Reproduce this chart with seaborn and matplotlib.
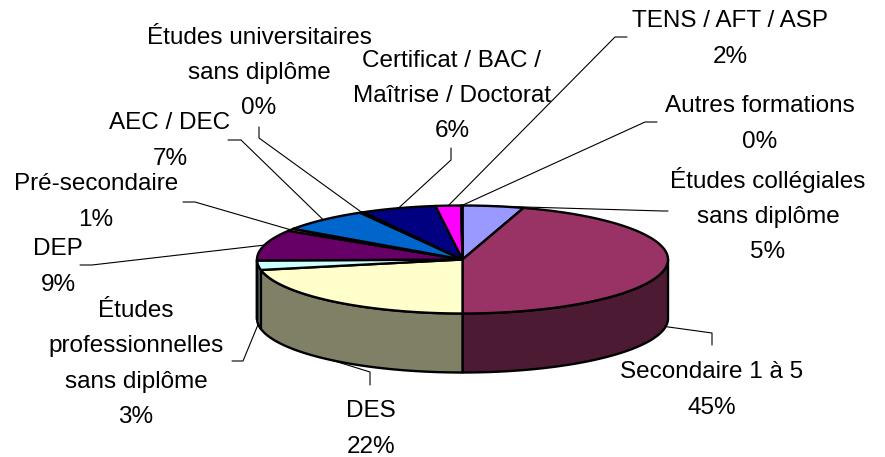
import numpy as np
import matplotlib
matplotlib.use("Agg")
import matplotlib.pyplot as plt
from matplotlib.patches import Polygon
from matplotlib.colors import to_rgb
import seaborn as sns

# slices, clockwise from 12 o'clock
categories = [
    "Études collégiales\nsans diplôme",
    "Secondaire 1 à 5",
    "DES",
    "Études\nprofessionnelles\nsans diplôme",
    "DEP",
    "Pré-secondaire",
    "AEC / DEC",
    "Études universitaires\nsans diplôme",
    "Certificat / BAC /\nMaîtrise / Doctorat",
    "TENS / AFT / ASP",
    "Autres formations",
]
shares = [4.8, 45.2, 21.9, 2.8, 9.2, 0.7, 7.1, 0.3, 5.9, 2.0, 0.1]
colors = ["#9999FF", "#993366", "#FFFFCC", "#CCFFFF", "#660066", "#FF8080",
          "#0066CC", "#CCCCFF", "#000080", "#FF00FF", "#FFFF00"]

# layout (pixel space of the 885x457 figure)
CX, CY, RX, RY, DEPTH = 462.5, 259.5, 205.5, 54.0, 59.0
label_pos = [(768, 215), (712, 390), (371, 429), (136, 364), (58, 267), (96, 202),
             (170, 141), (259, 73), (452, 96), (730, 39), (760, 124)]
leader_tail = [
    [(663, 211), (668, 211)],
    [(712, 333), (712, 345)],
    [(370, 372), (370, 385)],
    [(243, 361), (232, 361)],
    [(92, 265), (80, 265)],
    [(195, 202), (183, 202)],
    [(241, 140), (228, 140)],
    [(259, 138), (259, 127)],
    [(451, 160), (451, 148)],
    [(615, 37), (627, 37)],
    [(645, 122), (657, 122)],
]


def rim(a0, a1, dy=0.0, n=120):
    t = np.linspace(a0, a1, max(2, int(n * (a1 - a0) / np.pi) + 2))
    return np.column_stack([CX + RX * np.sin(t), CY + dy - RY * np.cos(t)])


def darker(c, f=0.5):
    return tuple(v * f for v in to_rgb(c))


sns.set_theme(style="white")
plt.rcParams["font.family"] = ["Liberation Sans", "DejaVu Sans"]

fig = plt.figure(figsize=(8.85, 4.57), dpi=100)
ax = fig.add_axes([0, 0, 1, 1])
ax.set_xlim(0, 885)
ax.set_ylim(457, 0)
ax.axis("off")

frac = np.array(shares) / np.sum(shares)
edges = np.concatenate([[0], np.cumsum(frac)]) * 2 * np.pi

# side walls (front half only)
for i in range(len(shares)):
    s0 = max(edges[i], np.pi / 2)
    s1 = min(edges[i + 1], 3 * np.pi / 2)
    if s1 - s0 <= 1e-6:
        continue
    pts = np.vstack([rim(s0, s1), rim(s0, s1, DEPTH)[::-1]])
    ax.add_patch(Polygon(pts, closed=True, facecolor=darker(colors[i]),
                         edgecolor="black", lw=1.7, joinstyle="round", zorder=1))

# top faces
for i in range(len(shares)):
    if edges[i + 1] - edges[i] <= 1e-6:
        continue
    pts = np.vstack([[CX, CY], rim(edges[i], edges[i + 1])])
    ax.add_patch(Polygon(pts, closed=True, facecolor=colors[i],
                         edgecolor="black", lw=1.7, joinstyle="round", zorder=2))

# labels with leader lines
for i, name in enumerate(categories):
    mid = (edges[i] + edges[i + 1]) / 2
    front = np.pi / 2 < mid < 3 * np.pi / 2
    anchor = rim(mid, mid, DEPTH if front else 0.0)[0]
    path = np.vstack([anchor] + leader_tail[i])
    ax.plot(path[:, 0], path[:, 1], color="black", lw=0.8, zorder=3)
    ax.text(label_pos[i][0], label_pos[i][1], f"{name}\n{round(shares[i]):.0f}%",
            ha="center", va="center", fontsize=17.5, linespacing=1.78, color="black")

fig.savefig("out.png", dpi=100)
plt.close(fig)
